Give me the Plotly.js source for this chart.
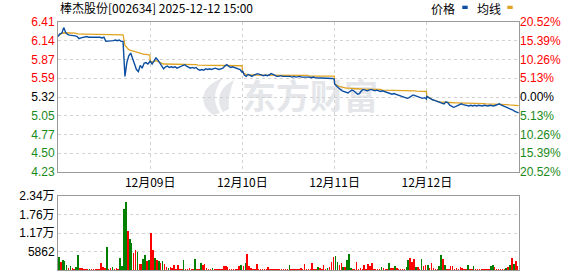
<!DOCTYPE html>
<html><head><meta charset="utf-8">
<script src="https://cdn.plot.ly/plotly-3.0.1.min.js"></script>
<style>html,body{margin:0;padding:0;background:#fff}#chart{width:578px;height:276px}</style>
</head><body><div id="chart"></div>
<script>
// ---- data ----
const dayLabels = ['12月08日','12月09日','12月10日','12月11日','12月12日'];
const prevClose = 5.32;
const pctSteps = [20.52, 15.39, 10.26, 5.13, 0, -5.13, -10.26, -15.39, -20.52];
const priceLabels = ['6.41','6.14','5.87','5.59','5.32','5.05','4.77','4.50','4.23'];
const pctLabels = ['20.52%','15.39%','10.26%','5.13%','0.00%','5.13%','10.26%','15.39%','20.52%'];
const volTickVals = [0, 5862, 11724, 17586, 23448];
const volTickText = ['0','5862','1.17万','1.76万','2.34万'];

// price every 5 minutes (0..240) for each day
const priceD1 = [6.20,6.24,6.25,6.33,6.26,6.23,6.22,6.22,6.21,6.21,6.20,6.17,6.18,6.19,6.19,6.20,6.19,6.19,6.19,6.19,6.20,6.19,6.19,6.18,6.19,6.13,6.13,6.13,6.14,6.14,6.15,6.14,6.15,6.13,6.13,5.62,5.82,5.92,5.96,5.86,5.80,5.72,5.69,5.78,5.74,5.81,5.82,5.80,5.84];
const priceD2 = [5.84,5.80,5.85,5.89,5.86,5.82,5.78,5.73,5.76,5.77,5.75,5.76,5.75,5.76,5.74,5.75,5.76,5.77,5.79,5.77,5.75,5.74,5.75,5.74,5.75,5.72,5.71,5.72,5.71,5.73,5.72,5.73,5.72,5.73,5.74,5.73,5.72,5.73,5.74,5.77,5.79,5.77,5.75,5.76,5.75,5.75,5.74,5.72,5.68];
const priceD3 = [5.70,5.64,5.62,5.65,5.63,5.62,5.64,5.65,5.66,5.65,5.64,5.63,5.64,5.63,5.64,5.66,5.65,5.63,5.62,5.62,5.63,5.62,5.62,5.63,5.62,5.62,5.61,5.62,5.61,5.62,5.62,5.61,5.61,5.62,5.61,5.61,5.60,5.61,5.60,5.60,5.59,5.60,5.59,5.59,5.59,5.60,5.59,5.59,5.58];
const priceD4 = [5.51,5.48,5.45,5.43,5.41,5.40,5.39,5.38,5.40,5.42,5.41,5.38,5.36,5.37,5.41,5.43,5.42,5.41,5.42,5.43,5.42,5.41,5.42,5.41,5.40,5.41,5.40,5.38,5.38,5.37,5.36,5.37,5.36,5.35,5.35,5.34,5.33,5.32,5.30,5.31,5.33,5.35,5.34,5.33,5.32,5.31,5.30,5.31,5.29];
const priceD5 = [5.33,5.31,5.30,5.28,5.27,5.26,5.25,5.24,5.23,5.22,5.25,5.24,5.20,5.18,5.17,5.18,5.19,5.21,5.22,5.21,5.20,5.20,5.19,5.20,5.19,5.20,5.19,5.20,5.19,5.19,5.20,5.19,5.19,5.20,5.19,5.19,5.20,5.21,5.22,5.20,5.19,5.17,5.16,5.15,5.15,5.13,5.11,5.10,5.09];

const avgD1 = [6.21,6.23,6.25,6.255,6.255,6.255,6.255,6.255,6.255,6.25,6.24,6.235,6.235,6.235,6.235,6.235,6.235,6.235,6.235,6.235,6.235,6.235,6.235,6.235,6.235,6.225,6.225,6.225,6.225,6.225,6.225,6.225,6.225,6.225,6.225,6.07,6.04,6.01,6.00,5.99,5.98,5.97,5.96,5.95,5.95,5.94,5.94,5.93,5.93];
const avgD2 = [5.84,5.83,5.84,5.85,5.84,5.82,5.81,5.80,5.80,5.80,5.80,5.80,5.80,5.795,5.795,5.795,5.795,5.795,5.795,5.795,5.795,5.795,5.795,5.795,5.79,5.785,5.785,5.785,5.785,5.785,5.78,5.78,5.78,5.78,5.78,5.78,5.78,5.78,5.78,5.78,5.78,5.775,5.775,5.775,5.775,5.775,5.775,5.775,5.775];
const avgD3 = [5.70,5.66,5.65,5.64,5.64,5.64,5.64,5.64,5.64,5.64,5.64,5.64,5.64,5.64,5.64,5.64,5.64,5.64,5.64,5.64,5.64,5.635,5.635,5.635,5.635,5.635,5.635,5.635,5.635,5.635,5.635,5.635,5.635,5.635,5.635,5.625,5.625,5.625,5.625,5.625,5.625,5.625,5.625,5.625,5.625,5.625,5.625,5.625,5.625];
const avgD4 = [5.51,5.49,5.48,5.47,5.46,5.455,5.45,5.45,5.445,5.445,5.44,5.44,5.44,5.435,5.435,5.435,5.435,5.435,5.435,5.43,5.43,5.43,5.43,5.43,5.43,5.42,5.42,5.42,5.42,5.42,5.42,5.415,5.415,5.415,5.415,5.415,5.415,5.41,5.41,5.41,5.41,5.41,5.41,5.405,5.405,5.405,5.40,5.40,5.40];
const avgD5 = [5.33,5.32,5.30,5.28,5.27,5.26,5.25,5.245,5.245,5.24,5.24,5.24,5.24,5.235,5.235,5.235,5.235,5.235,5.235,5.23,5.23,5.23,5.23,5.23,5.23,5.225,5.225,5.225,5.225,5.225,5.225,5.22,5.22,5.22,5.22,5.22,5.22,5.215,5.215,5.215,5.215,5.21,5.21,5.205,5.205,5.20,5.20,5.195,5.195];

// volume per 5-minute slot (48 per day) and direction (r = up, g = down)
const volD1 = [4200,2500,3200,3000,1500,700,1200,500, 400,800,4700,700,600,300,300,300, 400,300,300,300,300,300,2300,900, 700,7400,400,600,800,400,500,400, 3700,1300,19300,21600,12400,9700,8600,5300, 6300,5800,1800,2000,3400,4700,2700,3200];
const dirD1 = 'grgggrgr'+'rggrrrrr'+'grrrrrrr'+'rgrrgrrr'+'ggggrggr'+'rgrrggrg';
const volD2 = [11800,6300,3700,3200,2700,2100,2800,1900, 800,600,900,700,1500,400,1500,400, 300,3200,400,300,500,300,300,3500, 400,300,2100,1500,1800,700,300,300, 500,300,300,300,300,300,1300,1300, 1000,300,300,300,300,300,1300,1600];
const dirD2 = 'rrgrgrgr'+'rgrrrrrr'+'rgrrrrrg'+'rrgrrrrr'+'grrrrrrr'+'rrrrrrrg';
const volD3 = [1300,2100,5000,1300,600,300,300,1900, 300,300,300,300,300,1050,300,300, 300,300,300,300,300,300,300,300, 1600,300,300,300,300,300,700,300, 1900,300,300,300,2300,300,300,1050, 700,300,1600,300,700,1050,2400,4200];
const dirD3 = 'rgrrrrrr'+'rrrrrrrr'+'rrrrrrrr'+'grrrrrrr'+'rrrrrrrg'+'rrrrgrrr';
const volD4 = [4500,2400,1600,2100,1050,1050,3200,5000, 700,400,300,2600,300,500,300,1600, 300,1900,1300,2300,300,300,300,300, 1050,700,300,300,2300,700,700,1300, 700,300,300,300,300,1050,3200,3900, 2400,3500,1050,1050,300,3500,1300,1600];
const dirD4 = 'ggrrgrgg'+'grrrrrrr'+'rrrrrrrr'+'grrrgrrg'+'rrrrrggr'+'rrgrrgrr';
const volD5 = [1600,700,2300,700,300,300,1300,4800, 3500,1600,300,300,1400,1300,300,700, 300,1050,700,300,300,1600,300,300, 1300,300,300,300,300,300,300,300, 300,1300,1600,850,300,300,300,300, 300,700,1050,1600,3900,1800,2800,1300];
const dirD5 = 'grrrrrgg'+'rgrrrrrr'+'rrrrrgrr'+'grrrrrrr'+'rggrrrrr'+'rgrgrgrr';

// ---- build ----
const SLOTS = 241;
const priceDays = [priceD1, priceD2, priceD3, priceD4, priceD5];
const avgDays = [avgD1, avgD2, avgD3, avgD4, avgD5];
const volDays = [volD1, volD2, volD3, volD4, volD5];
const dirDays = [dirD1, dirD2, dirD3, dirD4, dirD5];

const px = [], py = [], ay = [];
priceDays.forEach((arr, d) => arr.forEach((v, j) => { px.push(d * SLOTS + j * 5); py.push(v); ay.push(avgDays[d][j]); }));
const vx = [], vy = [], vc = [];
volDays.forEach((arr, d) => arr.forEach((v, i) => {
  vx.push(d * SLOTS + i * 5 + 2.5); vy.push(v);
  vc.push(dirDays[d][i] === 'g' ? '#008000' : '#ff0000');
}));

const RED = '#ff0000', GREEN = '#1a8a1a', BLK = '#000000';
const tickVals = pctSteps.map(p => prevClose * (1 + p / 100));
const colorOf = p => p > 0 ? RED : (p < 0 ? GREEN : BLK);
const priceText = priceLabels.map((t, k) => `<span style="color:${colorOf(pctSteps[k])}">${t}</span>`);
const pctText = pctLabels.map((t, k) => `<span style="color:${colorOf(pctSteps[k])}">${t}</span>`);
const yRange = [tickVals[tickVals.length - 1], tickVals[0]];

const traces = [
  {x: px, y: ay, type: 'scatter', mode: 'lines', line: {color: '#e0a424', width: 1.3}, xaxis: 'x', yaxis: 'y', hoverinfo: 'skip'},
  {x: px, y: py, type: 'scatter', mode: 'lines', line: {color: '#0b4ea2', width: 1.4}, xaxis: 'x', yaxis: 'y', hoverinfo: 'skip'},
  {x: px, y: py, type: 'scatter', mode: 'lines', line: {width: 0}, opacity: 0, xaxis: 'x', yaxis: 'y3', hoverinfo: 'skip'},
  {x: vx, y: vy, type: 'bar', width: 4, marker: {color: vc, line: {width: 0}}, xaxis: 'x2', yaxis: 'y2', hoverinfo: 'skip'}
];

const W = 578, H = 276, L = 58, R = 519, T = 22, B = 270;
const fx = p => (p - L) / (R - L);
const fy = p => (B - p) / (B - T);
const FONT = 'Arial, "Liberation Sans", "Noto Sans CJK SC", sans-serif';
const CJK = '"Noto Sans CJK SC", sans-serif';
const WM = '#e4e6ea';
const P = (x, y) => `${fx(x).toFixed(4)},${fy(y).toFixed(4)}`;

const grid = {showgrid: true, gridcolor: '#d2d2d2', gridwidth: 1, griddash: '3px,3px'};
const frame = {showline: true, mirror: true, linecolor: '#9a9a9a', linewidth: 1, zeroline: false, ticks: ''};

const layout = {
  width: W, height: H,
  margin: {l: L, r: W - R, t: T, b: H - B},
  paper_bgcolor: '#fff', plot_bgcolor: '#fff',
  showlegend: false,
  font: {family: FONT, size: 12, color: '#000'},
  title: {text: '棒杰股份[002634] 2025-12-12 15:00', x: 60 / W, xanchor: 'left', xref: 'container',
          y: 1 - 8.5 / H, yref: 'container', yanchor: 'middle', font: {family: CJK, size: 12, color: '#000'}},
  xaxis: Object.assign({}, grid, frame, {domain: [0, 1], range: [0, 5 * SLOTS], anchor: 'y',
    tickmode: 'array', tickvals: [1, 2, 3, 4].map(d => d * SLOTS), ticktext: dayLabels.slice(1),
    tickfont: {family: CJK, size: 12, color: '#000'}, fixedrange: true}),
  yaxis: Object.assign({}, grid, frame, {domain: [fy(172), 1], range: yRange, anchor: 'x',
    tickmode: 'array', tickvals: tickVals, ticktext: priceText, tickfont: {family: FONT, size: 12}}),
  yaxis3: {overlaying: 'y', side: 'right', range: yRange, anchor: 'x', showgrid: false, zeroline: false,
    showline: false, ticks: '', tickmode: 'array', tickvals: tickVals, ticktext: pctText,
    tickfont: {family: FONT, size: 12}},
  xaxis2: Object.assign({}, frame, {domain: [0, 1], range: [0, 5 * SLOTS], anchor: 'y2', matches: 'x',
    showgrid: false, showticklabels: false}),
  yaxis2: Object.assign({}, grid, frame, {domain: [0, fy(196)], range: [0, volTickVals[4]], anchor: 'x2',
    tickmode: 'array', tickvals: volTickVals, ticktext: volTickText, tickfont: {family: FONT, size: 12}}),
  bargap: 0,
  shapes: [
    {type: 'rect', xref: 'paper', yref: 'paper', x0: fx(236), x1: fx(384), y0: fy(116), y1: fy(82),
     line: {width: 0}, fillcolor: 'rgba(0,0,0,0)', layer: 'below',
     label: {text: '东方财富', textposition: 'middle center',
             font: {family: CJK, size: 34, color: WM, weight: 'bold'}}},
    {type: 'path', xref: 'paper', yref: 'paper', layer: 'below', fillcolor: WM, line: {width: 0},
     path: `M ${P(213,115)} C ${P(198,104)} ${P(200,86)} ${P(223,78)} C ${P(214,89)} ${P(212,101)} ${P(220,113)} Z`},
    {type: 'path', xref: 'paper', yref: 'paper', layer: 'below', fillcolor: WM, line: {width: 0},
     path: `M ${P(223,112)} C ${P(215,100)} ${P(220,87)} ${P(234,80)} C ${P(230,90)} ${P(228,100)} ${P(229,109)} Z`},
    {type: 'rect', xref: 'paper', yref: 'paper', x0: fx(462.3), x1: fx(467.7), y0: fy(9), y1: fy(5.7),
     fillcolor: '#0b4ea2', line: {width: 0}},
    {type: 'rect', xref: 'paper', yref: 'paper', x0: fx(507.3), x1: fx(512.7), y0: fy(9), y1: fy(5.7),
     fillcolor: '#e0a424', line: {width: 0}}
  ],
  annotations: [
    {text: '价格', xref: 'paper', yref: 'paper', x: fx(443), y: fy(8.5), xanchor: 'center', yanchor: 'middle',
     showarrow: false, font: {family: CJK, size: 12, color: '#000'}},
    {text: '均线', xref: 'paper', yref: 'paper', x: fx(489), y: fy(8.5), xanchor: 'center', yanchor: 'middle',
     showarrow: false, font: {family: CJK, size: 12, color: '#000'}}
  ]
};

Plotly.newPlot('chart', traces, layout, {staticPlot: true, displayModeBar: false});
</script></body></html>
